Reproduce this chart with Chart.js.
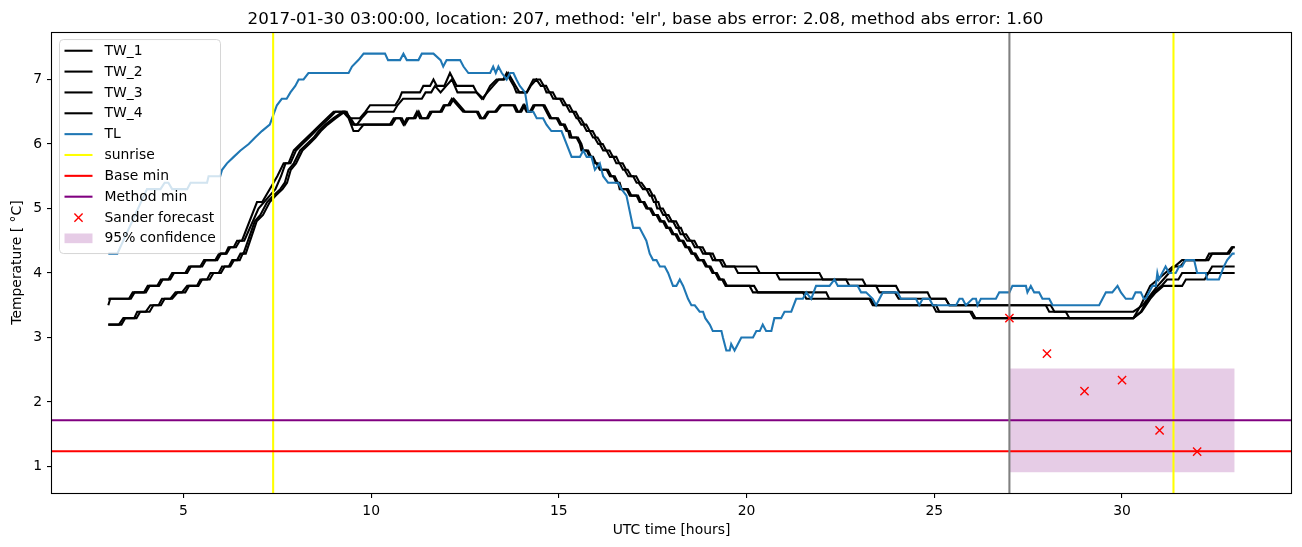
<!DOCTYPE html>
<html>
<head>
<meta charset="utf-8">
<script src="https://cdn.jsdelivr.net/npm/chart.js@4.4.0/dist/chart.umd.min.js"></script>
<style>
  html, body { margin: 0; padding: 0; background: #fff; }
  #wrap { width: 1302px; height: 547px; }
</style>
</head>
<body>
<div id="wrap"><canvas id="tempChart"></canvas></div>
<script>
const titleText = "2017-01-30 03:00:00, location: 207, method: 'elr', base abs error: 2.08, method abs error: 1.60";
const hourTicks = [5, 10, 15, 20, 25, 30];
const tempTicks = [1, 2, 3, 4, 5, 6, 7];
const hourRange = [1.5, 34.5];
const tempRange = [0.59, 7.735];

// [hour, temperature]
const tw1 = [[3.0,3.5],[3.05,3.6],[3.55,3.6],[3.65,3.7],[3.95,3.7],[4.05,3.8],[4.3,3.8],[4.4,3.9],[4.6,3.9],[4.7,4.0],[5.05,4.0],[5.15,4.1],[5.45,4.1],[5.55,4.2],[5.85,4.2],[5.95,4.3],[6.12,4.3],[6.2,4.4],[6.34,4.4],[6.43,4.5],[6.56,4.5],[6.96,5.1],[7.1,5.1],[7.4,5.4],[7.5,5.5],[7.67,5.7],[7.8,5.7],[7.94,5.9],[8.11,6.0],[8.29,6.1],[8.47,6.2],[8.64,6.3],[8.82,6.4],[9.0,6.5],[9.3,6.5],[9.44,6.4],[9.7,6.4],[9.85,6.5],[9.97,6.6],[10.64,6.6],[10.75,6.7],[10.82,6.8],[11.3,6.8],[11.39,6.9],[11.57,6.9],[11.66,7.0],[11.75,6.9],[11.95,6.9],[12.1,7.1],[12.28,6.9],[12.72,6.9],[12.81,6.8],[12.99,6.7],[13.17,6.9],[13.34,7.0],[13.52,7.0],[13.61,7.1],[13.7,7.0],[13.8,6.9],[13.87,6.8],[14.14,6.8],[14.32,7.0],[14.5,7.0],[14.6,6.9],[14.67,6.8],[14.76,6.8],[14.85,6.7],[15.03,6.7],[15.12,6.6],[15.2,6.6],[15.29,6.5],[15.38,6.5],[15.47,6.4],[15.5,6.4],[15.6,6.3],[15.65,6.3],[15.74,6.2],[15.82,6.2],[15.91,6.1],[15.95,6.1],[16.05,6.0],[16.09,6.0],[16.18,5.9],[16.27,5.9],[16.36,5.8],[16.45,5.8],[16.53,5.7],[16.62,5.7],[16.71,5.6],[16.75,5.6],[16.85,5.5],[16.98,5.5],[17.07,5.4],[17.12,5.4],[17.24,5.3],[17.33,5.3],[17.42,5.2],[17.46,5.2],[17.53,5.1],[17.57,5.1],[17.62,5.0],[17.69,5.0],[17.78,4.9],[17.84,4.9],[17.93,4.8],[18.04,4.8],[18.13,4.7],[18.17,4.7],[18.24,4.6],[18.31,4.6],[18.42,4.5],[18.53,4.5],[18.62,4.4],[18.75,4.4],[18.84,4.3],[19.02,4.3],[19.1,4.2],[19.28,4.2],[19.37,4.1],[20.26,4.1],[20.35,4.0],[21.94,4.0],[22.03,3.9],[23.09,3.9],[23.18,3.8],[23.98,3.8],[24.07,3.7],[24.82,3.7],[24.9,3.6],[25.3,3.6],[25.4,3.5],[27.97,3.5],[28.06,3.4],[30.3,3.4],[30.55,3.5],[30.81,3.7],[30.95,3.8],[31.1,3.9],[31.25,4.0],[31.4,4.1],[31.6,4.2],[32.23,4.2],[32.32,4.3],[32.8,4.3],[32.92,4.4],[33.0,4.4]];

const tw2 = [[3.0,3.6],[3.6,3.6],[3.7,3.7],[4.0,3.7],[4.1,3.8],[4.35,3.8],[4.45,3.9],[4.65,3.9],[4.75,4.0],[5.1,4.0],[5.2,4.1],[5.5,4.1],[5.6,4.2],[5.9,4.2],[6.0,4.3],[6.15,4.3],[6.25,4.4],[6.4,4.4],[6.5,4.5],[6.62,4.5],[7.0,5.0],[7.15,5.1],[7.3,5.2],[7.45,5.3],[7.6,5.5],[7.72,5.7],[7.85,5.7],[8.0,5.9],[8.17,6.0],[8.35,6.1],[8.52,6.2],[8.7,6.3],[8.88,6.4],[9.05,6.5],[9.35,6.5],[9.5,6.3],[9.62,6.3],[9.75,6.4],[9.9,6.5],[10.6,6.5],[10.7,6.6],[10.85,6.7],[11.35,6.7],[11.45,6.8],[11.6,6.8],[11.7,6.9],[11.85,6.8],[12.0,6.9],[12.15,7.0],[12.3,6.8],[12.8,6.8],[12.95,6.7],[13.1,6.8],[13.25,6.9],[13.4,7.0],[13.55,7.0],[13.65,7.1],[13.75,7.0],[13.85,6.9],[13.95,6.8],[14.15,6.8],[14.25,6.9],[14.4,7.0],[14.52,6.9],[14.66,6.9],[14.75,6.8],[14.84,6.8],[14.93,6.7],[15.1,6.7],[15.2,6.6],[15.28,6.6],[15.37,6.5],[15.45,6.5],[15.54,6.4],[15.58,6.4],[15.68,6.3],[15.73,6.3],[15.82,6.2],[15.9,6.2],[15.99,6.1],[16.03,6.1],[16.13,6.0],[16.17,6.0],[16.26,5.9],[16.35,5.9],[16.44,5.8],[16.53,5.8],[16.61,5.7],[16.7,5.7],[16.79,5.6],[16.83,5.6],[16.93,5.5],[17.06,5.5],[17.15,5.4],[17.2,5.4],[17.32,5.3],[17.41,5.3],[17.5,5.2],[17.54,5.2],[17.61,5.1],[17.65,5.1],[17.7,5.0],[17.77,5.0],[17.86,4.9],[17.92,4.9],[18.01,4.8],[18.12,4.8],[18.21,4.7],[18.25,4.7],[18.32,4.6],[18.39,4.6],[18.5,4.5],[18.61,4.5],[18.7,4.4],[18.83,4.4],[18.92,4.3],[19.1,4.3],[19.18,4.2],[19.36,4.2],[19.45,4.1],[19.68,4.1],[19.77,4.0],[20.79,4.0],[20.88,3.9],[22.65,3.9],[22.74,3.8],[23.45,3.8],[23.54,3.7],[23.95,3.7],[24.05,3.6],[25.3,3.6],[25.4,3.5],[28.1,3.5],[28.2,3.4],[28.5,3.4],[28.6,3.3],[30.3,3.3],[30.5,3.5],[30.75,3.8],[30.95,3.9],[31.15,4.0],[31.35,4.1],[31.55,4.1],[31.7,4.2],[32.3,4.2],[32.4,4.3],[32.85,4.3],[32.95,4.4],[33.0,4.4]];

const tw3 = [[3.0,3.2],[3.28,3.2],[3.4,3.3],[3.69,3.3],[3.77,3.4],[4.0,3.4],[4.12,3.5],[4.34,3.5],[4.43,3.6],[4.65,3.6],[4.79,3.7],[4.96,3.7],[5.1,3.8],[5.36,3.8],[5.45,3.9],[5.63,3.9],[5.72,4.0],[5.94,4.0],[6.03,4.1],[6.21,4.1],[6.3,4.2],[6.43,4.2],[6.52,4.3],[6.6,4.3],[6.9,4.8],[7.05,4.9],[7.23,5.1],[7.4,5.2],[7.58,5.3],[7.7,5.4],[7.8,5.6],[7.94,5.7],[8.11,5.9],[8.29,6.0],[8.47,6.1],[8.6,6.2],[8.78,6.3],[9.0,6.4],[9.25,6.5],[9.4,6.4],[9.53,6.2],[9.66,6.2],[9.8,6.3],[10.5,6.3],[10.6,6.4],[10.77,6.4],[10.86,6.3],[10.95,6.4],[11.13,6.4],[11.22,6.5],[11.3,6.4],[11.48,6.4],[11.57,6.5],[11.84,6.5],[11.93,6.6],[12.05,6.6],[12.15,6.7],[12.3,6.6],[12.45,6.5],[12.81,6.5],[12.9,6.4],[12.99,6.4],[13.1,6.5],[13.3,6.5],[13.43,6.6],[13.79,6.6],[13.87,6.5],[13.96,6.5],[14.05,6.6],[14.14,6.5],[14.23,6.5],[14.32,6.6],[14.58,6.6],[14.67,6.5],[14.76,6.4],[14.94,6.4],[15.03,6.3],[15.12,6.3],[15.2,6.2],[15.25,6.2],[15.29,6.1],[15.47,6.1],[15.56,6.0],[15.6,5.9],[15.74,5.9],[15.82,5.8],[15.87,5.8],[15.95,5.7],[16.0,5.7],[16.09,5.6],[16.27,5.6],[16.36,5.5],[16.45,5.5],[16.53,5.4],[16.58,5.4],[16.62,5.3],[16.8,5.3],[16.89,5.2],[17.07,5.2],[17.15,5.1],[17.24,5.1],[17.33,5.0],[17.42,5.0],[17.51,4.9],[17.6,4.9],[17.69,4.8],[17.77,4.8],[17.86,4.7],[17.93,4.7],[18.02,4.6],[18.1,4.6],[18.19,4.5],[18.28,4.5],[18.37,4.4],[18.44,4.4],[18.53,4.3],[18.6,4.3],[18.7,4.2],[18.82,4.2],[18.91,4.1],[19.0,4.1],[19.09,4.0],[19.17,4.0],[19.26,3.9],[19.35,3.9],[19.44,3.8],[20.2,3.8],[20.3,3.7],[21.5,3.7],[21.59,3.6],[23.27,3.6],[23.36,3.5],[24.96,3.5],[25.05,3.4],[26.0,3.4],[26.1,3.3],[30.3,3.3],[30.5,3.4],[30.7,3.6],[30.85,3.7],[31.05,3.8],[31.2,3.9],[31.5,3.9],[31.6,4.0],[32.3,4.0],[32.4,4.1],[33.0,4.1]];

const tw4 = [[3.0,3.2],[3.35,3.2],[3.45,3.3],[3.75,3.3],[3.85,3.4],[4.1,3.4],[4.2,3.5],[4.4,3.5],[4.5,3.6],[4.7,3.6],[4.85,3.7],[5.05,3.7],[5.15,3.8],[5.4,3.8],[5.5,3.9],[5.7,3.9],[5.8,4.0],[6.0,4.0],[6.1,4.1],[6.25,4.1],[6.35,4.2],[6.5,4.2],[6.58,4.3],[6.66,4.3],[6.95,4.8],[7.12,4.9],[7.3,5.1],[7.46,5.2],[7.64,5.3],[7.76,5.4],[7.86,5.6],[8.0,5.7],[8.17,5.9],[8.35,6.0],[8.52,6.1],[8.66,6.2],[8.84,6.3],[9.06,6.4],[9.3,6.5],[9.45,6.4],[9.56,6.3],[10.55,6.3],[10.66,6.4],[10.82,6.4],[10.9,6.3],[11.0,6.4],[11.18,6.4],[11.27,6.5],[11.35,6.4],[11.52,6.4],[11.62,6.5],[11.88,6.5],[11.97,6.6],[12.1,6.6],[12.2,6.7],[12.35,6.6],[12.5,6.5],[12.85,6.5],[12.94,6.4],[13.03,6.4],[13.14,6.5],[13.34,6.5],[13.47,6.6],[13.83,6.6],[13.91,6.5],[14.0,6.5],[14.09,6.6],[14.18,6.5],[14.27,6.5],[14.36,6.6],[14.62,6.6],[14.71,6.5],[14.8,6.4],[14.98,6.4],[15.07,6.3],[15.16,6.3],[15.24,6.2],[15.29,6.2],[15.34,6.1],[15.51,6.1],[15.6,6.0],[15.65,5.9],[15.78,5.9],[15.86,5.8],[15.91,5.8],[15.99,5.7],[16.04,5.7],[16.13,5.6],[16.31,5.6],[16.4,5.5],[16.49,5.5],[16.57,5.4],[16.62,5.4],[16.67,5.3],[16.84,5.3],[16.93,5.2],[17.11,5.2],[17.19,5.1],[17.28,5.1],[17.37,5.0],[17.46,5.0],[17.55,4.9],[17.64,4.9],[17.73,4.8],[17.81,4.8],[17.9,4.7],[17.97,4.7],[18.06,4.6],[18.14,4.6],[18.23,4.5],[18.32,4.5],[18.41,4.4],[18.48,4.4],[18.57,4.3],[18.64,4.3],[18.74,4.2],[18.86,4.2],[18.95,4.1],[19.04,4.1],[19.13,4.0],[19.21,4.0],[19.3,3.9],[19.39,3.9],[19.48,3.8],[20.08,3.8],[20.17,3.7],[22.12,3.7],[22.2,3.6],[23.3,3.6],[23.4,3.5],[25.05,3.5],[25.13,3.4],[25.95,3.4],[26.05,3.3],[30.3,3.3],[30.52,3.4],[30.75,3.6],[30.9,3.7],[31.1,3.8],[31.6,3.8],[31.7,3.9],[32.2,3.9],[32.3,4.0],[33.0,4.0]];

const tl = [[3.0,4.3],[3.24,4.3],[4.03,5.3],[4.39,5.3],[4.5,5.4],[4.6,5.4],[4.7,5.3],[5.1,5.3],[5.19,5.4],[5.63,5.4],[5.67,5.5],[5.98,5.5],[6.03,5.6],[6.16,5.7],[6.34,5.8],[6.52,5.9],[6.74,6.0],[6.91,6.1],[7.09,6.2],[7.3,6.3],[7.49,6.6],[7.62,6.7],[7.75,6.7],[7.85,6.8],[7.98,6.9],[8.07,7.0],[8.2,7.0],[8.33,7.1],[9.4,7.1],[9.49,7.2],[9.66,7.3],[9.8,7.4],[10.37,7.4],[10.45,7.3],[10.77,7.3],[10.86,7.4],[10.95,7.3],[11.26,7.3],[11.35,7.4],[11.66,7.4],[11.85,7.3],[11.92,7.2],[12.01,7.3],[12.37,7.3],[12.46,7.2],[12.59,7.1],[13.17,7.1],[13.25,7.2],[13.32,7.1],[13.39,7.2],[13.48,7.1],[13.61,7.0],[13.7,7.1],[13.79,7.1],[13.87,7.0],[13.96,6.9],[14.1,6.8],[14.18,6.5],[14.32,6.5],[14.41,6.4],[14.58,6.4],[14.67,6.3],[14.8,6.2],[15.07,6.2],[15.34,5.8],[15.56,5.8],[15.65,5.9],[15.74,5.8],[15.87,5.8],[15.96,5.6],[16.09,5.7],[16.18,5.5],[16.31,5.4],[16.58,5.4],[16.67,5.3],[16.8,5.2],[16.98,4.7],[17.15,4.7],[17.24,4.6],[17.33,4.5],[17.42,4.3],[17.51,4.2],[17.6,4.2],[17.69,4.1],[17.82,4.1],[17.91,4.0],[18.04,3.8],[18.13,3.8],[18.22,3.9],[18.31,3.8],[18.44,3.6],[18.53,3.5],[18.62,3.5],[18.75,3.4],[18.84,3.4],[18.9,3.3],[19.02,3.2],[19.1,3.1],[19.33,3.1],[19.37,3.0],[19.46,2.8],[19.55,2.8],[19.59,2.9],[19.68,2.8],[19.86,3.0],[20.17,3.0],[20.26,3.1],[20.35,3.1],[20.43,3.2],[20.52,3.1],[20.66,3.1],[20.74,3.3],[20.92,3.3],[21.01,3.4],[21.19,3.4],[21.32,3.6],[21.5,3.6],[21.59,3.7],[21.72,3.6],[21.85,3.8],[22.21,3.8],[22.34,3.9],[22.43,3.8],[22.96,3.8],[23.05,3.7],[23.18,3.7],[23.36,3.6],[23.45,3.5],[23.63,3.7],[24.02,3.7],[24.11,3.6],[24.51,3.6],[24.6,3.5],[24.69,3.6],[24.87,3.6],[24.96,3.5],[25.58,3.5],[25.67,3.6],[25.75,3.6],[25.84,3.5],[26.02,3.6],[26.11,3.6],[26.15,3.5],[26.24,3.6],[26.64,3.6],[26.73,3.7],[27.0,3.7],[27.08,3.8],[27.44,3.8],[27.48,3.7],[27.57,3.8],[27.66,3.7],[27.79,3.7],[27.88,3.6],[28.06,3.6],[28.15,3.5],[29.39,3.5],[29.57,3.7],[29.74,3.7],[29.88,3.8],[29.97,3.7],[30.1,3.6],[30.28,3.6],[30.36,3.7],[30.5,3.7],[30.58,3.6],[30.63,3.6],[30.81,3.8],[30.9,3.8],[30.94,4.0],[30.98,3.9],[31.16,4.1],[31.25,4.0],[31.43,4.0],[31.52,4.1],[31.6,4.1],[31.69,4.2],[31.92,4.2],[32.0,4.0],[32.23,4.0],[32.27,3.9],[32.58,3.9],[32.71,4.1],[32.8,4.2],[32.94,4.3],[33.0,4.3]];

const sunriseHours = [7.39, 31.37];
const forecastStart = 27;
const baseMin = 1.237;
const methodMin = 1.718;
const forecastHours = [27, 28, 29, 30, 31, 32];
const forecastTemps = [3.30, 2.75, 2.17, 2.34, 1.56, 1.23];
const confHours = [27, 33];
const confLow = 0.91;
const confHigh = 2.52;

const pts = pairs => pairs.map(p => ({x: p[0], y: p[1]}));
const vlines = hours => hours.flatMap(h => [{x: h, y: tempRange[0]}, {x: h, y: tempRange[1]}, {x: h, y: null}]);
const hline = v => [{x: hourRange[0], y: v}, {x: hourRange[1], y: v}];

Chart.defaults.font.family = '"DejaVu Sans", sans-serif';
Chart.defaults.font.size = 13.9;
Chart.defaults.color = '#000';

// matplotlib 1.5pt lines at 100 dpi
const lineBase = {type: 'line', pointRadius: 0, borderWidth: 2.08, fill: false, tension: 0, legendKind: 'line'};

const frame = {
    id: 'frame',
    afterDatasetsDraw(chart) {
        const {ctx, chartArea: a} = chart;
        ctx.save();
        ctx.strokeStyle = '#000';
        ctx.lineWidth = 1.1;
        ctx.strokeRect(Math.round(a.left) - 0.5, Math.round(a.top) + 0.5, Math.round(a.right - a.left) + 1, Math.round(a.bottom - a.top));
        ctx.restore();
    }
};

const boxLegend = {
    id: 'boxLegend',
    afterDraw(chart) {
        const {ctx, chartArea} = chart;
        const items = chart.data.datasets.filter(d => d.label);
        const left = chartArea.left + 7.5, top = chartArea.top + 7.5;
        const rowH = 20.85;
        ctx.save();
        ctx.beginPath();
        ctx.roundRect(left, top, 161, 214, 4);
        ctx.fillStyle = 'rgba(255,255,255,0.8)';
        ctx.fill();
        ctx.strokeStyle = 'rgba(204,204,204,0.8)';
        ctx.lineWidth = 1;
        ctx.stroke();
        ctx.font = '13.9px "DejaVu Sans"';
        ctx.textBaseline = 'middle';
        items.forEach((d, i) => {
            const y = top + 11.2 + i * rowH;
            const x1 = left + 5, x2 = left + 33;
            if (d.legendKind === 'patch') {
                ctx.fillStyle = d.backgroundColor;
                ctx.fillRect(x1, y - 4.9, x2 - x1, 9.7);
            } else if (d.legendKind === 'marker') {
                const cx = (x1 + x2) / 2, r = 4.1;
                ctx.strokeStyle = d.borderColor;
                ctx.lineWidth = d.borderWidth;
                ctx.beginPath();
                ctx.moveTo(cx - r, y - r); ctx.lineTo(cx + r, y + r);
                ctx.moveTo(cx + r, y - r); ctx.lineTo(cx - r, y + r);
                ctx.stroke();
            } else {
                ctx.strokeStyle = d.borderColor;
                ctx.lineWidth = d.borderWidth;
                ctx.beginPath();
                ctx.moveTo(x1, y); ctx.lineTo(x2, y);
                ctx.stroke();
            }
            ctx.fillStyle = '#000';
            ctx.fillText(d.label, left + 45, y + 0.5);
        });
        ctx.restore();
    }
};

const ctx = document.getElementById('tempChart').getContext('2d');
new Chart(ctx, {
    type: 'line',
    data: {
        datasets: [
            {...lineBase, label: 'TW_1', data: pts(tw1), borderColor: '#000000', order: 12},
            {...lineBase, label: 'TW_2', data: pts(tw2), borderColor: '#000000', order: 11},
            {...lineBase, label: 'TW_3', data: pts(tw3), borderColor: '#000000', order: 10},
            {...lineBase, label: 'TW_4', data: pts(tw4), borderColor: '#000000', order: 9},
            {...lineBase, label: 'TL', data: pts(tl), borderColor: '#1f77b4', order: 8},
            {...lineBase, label: 'sunrise', data: vlines(sunriseHours), borderColor: '#ffff00', order: 7},
            {...lineBase, label: 'Base min', data: hline(baseMin), borderColor: '#ff0000', order: 6},
            {...lineBase, label: 'Method min', data: hline(methodMin), borderColor: '#800080', order: 5},
            {
                type: 'line', label: 'Sander forecast', legendKind: 'marker',
                data: forecastHours.map((h, i) => ({x: h, y: forecastTemps[i]})),
                showLine: false, pointStyle: 'crossRot', pointRadius: 5.8,
                borderColor: '#ff0000', backgroundColor: '#ff0000', borderWidth: 1.39, order: 3
            },
            {
                type: 'line', label: '95% confidence', legendKind: 'patch',
                data: confHours.map(h => ({x: h, y: confHigh})),
                fill: {value: confLow}, borderWidth: 0, pointRadius: 0,
                backgroundColor: 'rgba(128,0,128,0.2)', order: 20
            },
            {...lineBase, label: '', data: vlines([forecastStart]), borderColor: '#808080', order: 4}
        ]
    },
    options: {
        responsive: true,
        maintainAspectRatio: false,
        animation: false,
        layout: {padding: {left: 0, right: 11, top: 0, bottom: 0}},
        plugins: {
            legend: {display: false},
            tooltip: {enabled: false},
            title: {
                display: true,
                text: titleText,
                font: {size: 16.7, weight: 'normal'},
                color: '#000',
                padding: {top: 9.5, bottom: 2.5}
            }
        },
        scales: {
            x: {
                type: 'linear',
                min: hourRange[0],
                max: hourRange[1],
                afterBuildTicks: s => { s.ticks = hourTicks.map(v => ({value: v})); },
                afterFit: s => { s.height = 54; },
                ticks: {padding: 5, maxRotation: 0, color: '#000'},
                grid: {drawOnChartArea: false, drawTicks: true, tickLength: 5, color: '#000', lineWidth: 1.1},
                border: {display: false},
                title: {display: true, text: 'UTC time [hours]', color: '#000', padding: {top: 0, bottom: 8.5}}
            },
            y: {
                type: 'linear',
                min: tempRange[0],
                max: tempRange[1],
                afterBuildTicks: s => { s.ticks = tempTicks.map(v => ({value: v})); },
                afterFit: s => { s.width = 52; },
                ticks: {padding: 4.9, color: '#000'},
                grid: {drawOnChartArea: false, drawTicks: true, tickLength: 5, color: '#000', lineWidth: 1.1},
                border: {display: false},
                title: {display: true, text: 'Temperature [ °C]', color: '#000', padding: {top: 9, bottom: 0}}
            }
        }
    },
    plugins: [frame, boxLegend]
});
</script>
</body>
</html>
